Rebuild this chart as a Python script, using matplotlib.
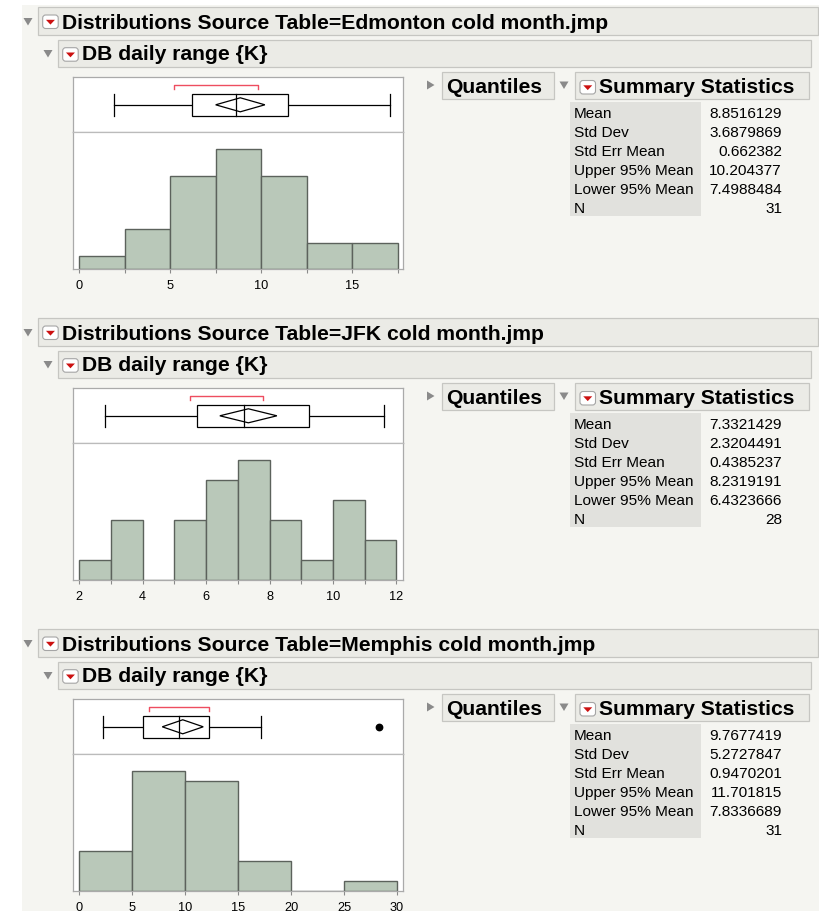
import matplotlib
matplotlib.use("Agg")
import matplotlib.pyplot as plt
from matplotlib.patches import Rectangle, Polygon, FancyBboxPatch

# ---------------------------------------------------------------- data
variable_name = "DB daily range {K}"
table_titles = [
    "Distributions Source Table=Edmonton cold month.jmp",
    "Distributions Source Table=JFK cold month.jmp",
    "Distributions Source Table=Memphis cold month.jmp",
]

# histogram bin edges and counts
edm_edges = [0, 2.5, 5, 7.5, 10, 12.5, 15, 17.5]
edm_counts = [1, 3, 7, 9, 7, 2, 2]
jfk_edges = [2, 3, 4, 5, 6, 7, 8, 9, 10, 11, 12]
jfk_counts = [1, 3, 0, 3, 5, 6, 3, 1, 4, 2]
mem_edges = [0, 5, 10, 15, 20, 25, 30]
mem_counts = [4, 12, 11, 3, 0, 1]

# outlier box plot: lower whisker, Q1, median, Q3, upper whisker
edm_box = [1.9, 6.2, 8.6, 11.5, 17.1]
jfk_box = [2.8, 5.7, 7.2, 9.25, 11.6]
mem_box = [2.2, 6.05, 9.45, 12.25, 17.2]
edm_shortest_half = [5.2, 9.85]
jfk_shortest_half = [5.5, 7.8]
mem_shortest_half = [6.6, 12.25]
edm_outliers = []
jfk_outliers = []
mem_outliers = [28.3]

# axis ticks
edm_ticks = [0, 5, 10, 15]
edm_minor = [2.5, 7.5, 12.5, 17.5]
jfk_ticks = [2, 4, 6, 8, 10, 12]
jfk_minor = [3, 5, 7, 9, 11]
mem_ticks = [0, 5, 10, 15, 20, 25, 30]
mem_minor = []
edm_xlim = [-0.33, 17.8]
jfk_xlim = [1.81, 12.21]
mem_xlim = [-0.57, 30.57]

# summary statistics
stat_labels = ["Mean", "Std Dev", "Std Err Mean", "Upper 95% Mean",
               "Lower 95% Mean", "N"]
edm_stats = ["8.8516129", "3.6879869", "0.662382", "10.204377", "7.4988484", "31"]
jfk_stats = ["7.3321429", "2.3204491", "0.4385237", "8.2319191", "6.4323666", "28"]
mem_stats = ["9.7677419", "5.2727847", "0.9470201", "11.701815", "7.8336689", "31"]

sections = [
    dict(title=table_titles[0], edges=edm_edges, counts=edm_counts, box=edm_box,
         half=edm_shortest_half, out=edm_outliers, ticks=edm_ticks,
         minor=edm_minor, xlim=edm_xlim, stats=edm_stats),
    dict(title=table_titles[1], edges=jfk_edges, counts=jfk_counts, box=jfk_box,
         half=jfk_shortest_half, out=jfk_outliers, ticks=jfk_ticks,
         minor=jfk_minor, xlim=jfk_xlim, stats=jfk_stats),
    dict(title=table_titles[2], edges=mem_edges, counts=mem_counts, box=mem_box,
         half=mem_shortest_half, out=mem_outliers, ticks=mem_ticks,
         minor=mem_minor, xlim=mem_xlim, stats=mem_stats),
]

# ---------------------------------------------------------------- style
W, H, DPI = 820, 911, 100
FONT = "Liberation Sans"
PAGE = "#f5f5f1"
HEAD_FILL = "#ebebe6"
HEAD_EDGE = "#c6c6c2"
LABEL_FILL = "#e1e1dd"
FRAME = "#aaaaaa"
BAR_FILL = "#b9c8b9"
BAR_EDGE = "#5c625c"
RED = "#ee4d60"
ICON_RED = "#cc1111"
TRI = "#8a8a8a"
SECTION_STEP = 311.0

plt.rcParams["font.family"] = [FONT, "DejaVu Sans"]

fig = plt.figure(figsize=(W / DPI, H / DPI), dpi=DPI, facecolor="white")
canvas = fig.add_axes([0, 0, 1, 1])
canvas.set_xlim(0, W)
canvas.set_ylim(H, 0)
canvas.axis("off")
canvas.add_patch(Rectangle((22, 5), W - 22, H - 5, facecolor=PAGE,
                           edgecolor="none", zorder=0))


def fig_rect(x0, y0, x1, y1):
    return [x0 / W, 1 - y1 / H, (x1 - x0) / W, (y1 - y0) / H]


def header_box(x0, y0, x1, y1):
    canvas.add_patch(Rectangle((x0, y0), x1 - x0, y1 - y0, facecolor=HEAD_FILL,
                               edgecolor=HEAD_EDGE, lw=0.9, zorder=1))


def tri_down(cx, cy):
    canvas.add_patch(Polygon([(cx - 4.5, cy - 3.5), (cx + 4.5, cy - 3.5),
                              (cx, cy + 4)], closed=True, facecolor=TRI,
                             edgecolor="none", zorder=2))


def tri_right(cx, cy):
    canvas.add_patch(Polygon([(cx - 3.5, cy - 4.5), (cx - 3.5, cy + 4.5),
                              (cx + 4, cy)], closed=True, facecolor=TRI,
                             edgecolor="none", zorder=2))


def menu_icon(x0, y0):
    canvas.add_patch(FancyBboxPatch((x0 + 1.5, y0 + 1.5), 12.5, 10.5,
                                    boxstyle="round,pad=1.5,rounding_size=3",
                                    facecolor="white", edgecolor="#a5a5a5",
                                    lw=0.8, zorder=2))
    cx, cy = x0 + 7.75, y0 + 7
    canvas.add_patch(Polygon([(cx - 4.5, cy - 2.2), (cx + 4.5, cy - 2.2),
                              (cx, cy + 2.6)], closed=True, facecolor=ICON_RED,
                             edgecolor="none", zorder=3))


for i, s in enumerate(sections):
    dy = i * SECTION_STEP

    # outline headers
    header_box(38, 7.3 + dy, 818, 35 + dy)
    tri_down(28, 21.5 + dy)
    menu_icon(42.7, 15 + dy)
    canvas.text(62.5, 28.6 + dy, s["title"], fontsize=15.2, fontweight="bold",
                va="baseline", ha="left", color="black", zorder=3)

    header_box(58, 40 + dy, 811, 66.7 + dy)
    tri_down(48, 53.5 + dy)
    menu_icon(62.7, 47.7 + dy)
    canvas.text(82.5, 60.2 + dy, variable_name, fontsize=15.2,
                fontweight="bold", va="baseline", ha="left", color="black",
                zorder=3)

    # Quantiles (closed) and Summary Statistics (open) reports
    header_box(442, 72.3 + dy, 554, 99.3 + dy)
    tri_right(430.5, 85 + dy)
    canvas.text(446, 92.8 + dy, "Quantiles", fontsize=15.2, fontweight="bold",
                va="baseline", ha="left", color="black", zorder=3)

    header_box(575.3, 72.3 + dy, 809.3, 99.3 + dy)
    tri_down(564, 85 + dy)
    menu_icon(580, 80.5 + dy)
    canvas.text(599, 92.8 + dy, "Summary Statistics", fontsize=15.2,
                fontweight="bold", va="baseline", ha="left", color="black",
                zorder=3)

    canvas.add_patch(Rectangle((570, 101.7 + dy), 131, 114.3,
                               facecolor=LABEL_FILL, edgecolor="none",
                               zorder=1))
    for r, (lab, val) in enumerate(zip(stat_labels, s["stats"])):
        yb = 118.3 + dy + r * 19.0
        canvas.text(574, yb, lab, fontsize=11.1, va="baseline", ha="left",
                    color="black", zorder=3)
        canvas.text(782, yb, val, fontsize=11.1, va="baseline", ha="right",
                    color="black", zorder=3)

    # ---------------- box plot panel
    axb = fig.add_axes(fig_rect(73.3, 77.3 + dy, 403, 132.3 + dy))
    axh = fig.add_axes(fig_rect(73.3, 132.3 + dy, 403, 269.3 + dy), sharex=axb)
    for ax in (axb, axh):
        ax.set_facecolor("white")
        for sp in ax.spines.values():
            sp.set_color(FRAME)
            sp.set_linewidth(0.9)

    axb.set_ylim(-1, 1)
    axb.tick_params(left=False, bottom=False, labelleft=False,
                    labelbottom=False)
    lo, q1, med, q3, hi = s["box"]
    bh = 0.395
    lw = 0.9
    axb.plot([lo, q1], [0, 0], color="black", lw=lw)
    axb.plot([q3, hi], [0, 0], color="black", lw=lw)
    axb.plot([lo, lo], [-bh, bh], color="black", lw=lw)
    axb.plot([hi, hi], [-bh, bh], color="black", lw=lw)
    axb.add_patch(Rectangle((q1, -bh), q3 - q1, 2 * bh, facecolor="white",
                            edgecolor="black", lw=lw, zorder=2))
    axb.plot([med, med], [-bh, bh], color="black", lw=lw, zorder=3)
    mean = float(s["stats"][0])
    ci_hi = float(s["stats"][3])
    ci_lo = float(s["stats"][4])
    dh = 0.255
    axb.add_patch(Polygon([(ci_lo, 0), (mean, dh), (ci_hi, 0), (mean, -dh)],
                          closed=True, facecolor="none", edgecolor="black",
                          lw=lw, zorder=3))
    h0, h1 = s["half"]
    axb.plot([h0, h0, h1, h1], [0.575, 0.72, 0.72, 0.575], color=RED, lw=1.0)
    if s["out"]:
        axb.plot(s["out"], [0] * len(s["out"]), "o", color="black", ms=4.6)

    # ---------------- histogram
    edges = s["edges"]
    counts = s["counts"]
    widths = [edges[k + 1] - edges[k] for k in range(len(counts))]
    axh.bar(edges[:-1], counts, width=widths, align="edge", color=BAR_FILL,
            edgecolor=BAR_EDGE, linewidth=1.0, zorder=2)
    axh.set_ylim(0, max(counts) * 1.14)
    axh.set_xlim(*s["xlim"])
    axh.set_xticks(s["ticks"])
    axh.set_xticks(s["minor"], minor=True)
    axh.set_xticklabels([str(t) for t in s["ticks"]])
    axh.tick_params(axis="x", which="both", direction="out", length=3.0,
                    width=0.8, color="#8a8a8a", pad=4.5, labelsize=9.2,
                    labelcolor="black")
    axh.tick_params(axis="y", left=False, labelleft=False)
    axh.spines["top"].set_color("#bbbbbb")

fig.savefig("out.png", dpi=DPI, facecolor=fig.get_facecolor())
